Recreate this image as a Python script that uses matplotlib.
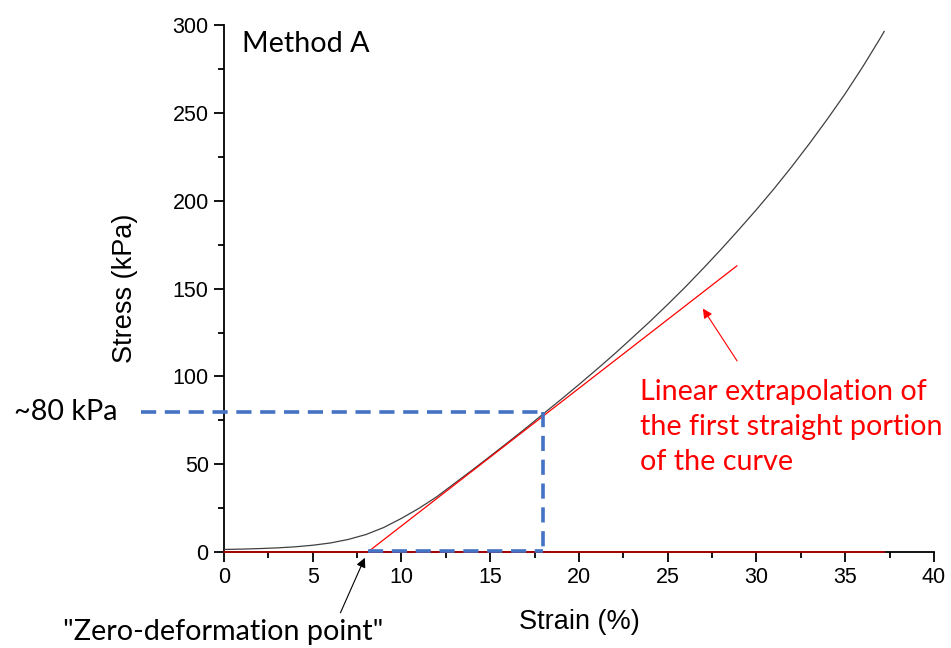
"""Stress-strain curve with linear extrapolation (Method A)."""

import matplotlib
matplotlib.use('Agg')
import matplotlib.pyplot as plt

# Measured stress-strain curve
strain = [0, 1, 2, 3, 4, 5, 6, 7, 8, 9, 10, 11, 12, 13, 14, 15, 16, 17, 18,
          19, 20, 21, 22, 23, 24, 25, 26, 27, 28, 29, 30, 31, 32, 33, 34, 35,
          36, 37, 37.2]
stress = [1.5, 1.7, 2, 2.4, 3, 3.9, 5.2, 7.2, 10, 14, 19.2, 25, 31.6, 39.2,
          46.8, 54.6, 62.5, 70.5, 78.8, 87, 95.4, 104, 112.8, 122, 131.3, 141,
          151, 161.5, 172.3, 183.5, 195, 207, 219.6, 232.8, 246.6, 261, 276.5,
          293, 296.5]

# Linear extrapolation of the first straight portion
fit_strain = [8.1, 28.9]
fit_stress = [0, 163]

# Zero-deformation point and read-off point
zero_strain = 8.1
read_strain = 18.0
read_stress = 80

blue = '#4472C4'
label_font = 'Lato'
label_size = 20.7

plt.rcParams['font.family'] = ['Liberation Sans', 'DejaVu Sans']

fig = plt.figure(figsize=(9.51, 6.48), dpi=100)
ax = fig.add_axes([0.2355, 0.148, 0.7465, 0.813])

ax.plot(strain, stress, color='#404040', lw=0.9, zorder=3)
ax.plot(fit_strain, fit_stress, color='red', lw=0.9, zorder=4)
ax.plot([0, strain[-1]], [0, 0], color='#c00000', lw=1.2, zorder=4, clip_on=False)

dash = dict(color=blue, lw=2.6, dashes=(4.2, 2.4), clip_on=False, zorder=5)
ax.plot([-4.7, read_strain], [read_stress, read_stress], **dash)
ax.plot([read_strain, read_strain], [read_stress, 0.5], **dash)
ax.plot([zero_strain, read_strain], [0.5, 0.5], **dash)

ax.set_xlim(0, 40)
ax.set_ylim(0, 300)
ax.set_xticks(range(0, 41, 5))
ax.set_xticks([2.5 + 5 * i for i in range(8)], minor=True)
ax.set_yticks(range(0, 301, 50))
ax.set_yticks([25 + 50 * i for i in range(6)], minor=True)
for side in ['top', 'right']:
    ax.spines[side].set_visible(False)
for side in ['left', 'bottom']:
    ax.spines[side].set_linewidth(1.3)
ax.tick_params(which='major', direction='out', length=7, width=1.3,
               labelsize=15.5, pad=4)
ax.tick_params(which='minor', direction='out', length=4.5, width=1.3)

ax.set_xlabel('Strain (%)', fontsize=19.5, labelpad=15)
ax.set_ylabel('Stress (kPa)', fontsize=19.5, labelpad=25)

ax.text(0.025, 0.965, 'Method A', transform=ax.transAxes, fontsize=label_size,
        family=label_font, ha='left', va='center')

fig.text(0.015, 1 - 412 / 648, '~80 kPa', fontsize=label_size,
         family=label_font, ha='left', va='center')
fig.text(0.066, 1 - 632 / 648, '"Zero-deformation point"', fontsize=label_size,
         family=label_font, ha='left', va='center')
ax.annotate('', xy=(8.0, -1.8), xytext=(6.5, -36),
            arrowprops=dict(arrowstyle='-|>', color='black', lw=0.8,
                            mutation_scale=14),
            annotation_clip=False)

fig.text(0.673, 1 - 427 / 648,
         'Linear extrapolation of\nthe first straight portion\nof the curve',
         fontsize=label_size, family=label_font, color='red', ha='left',
         va='center', linespacing=1.45)
ax.annotate('', xy=(26.9, 140), xytext=(29.0, 107.5),
            arrowprops=dict(arrowstyle='-|>', color='red', lw=0.8,
                            mutation_scale=14),
            annotation_clip=False)

plt.savefig('out.png', dpi=100)
